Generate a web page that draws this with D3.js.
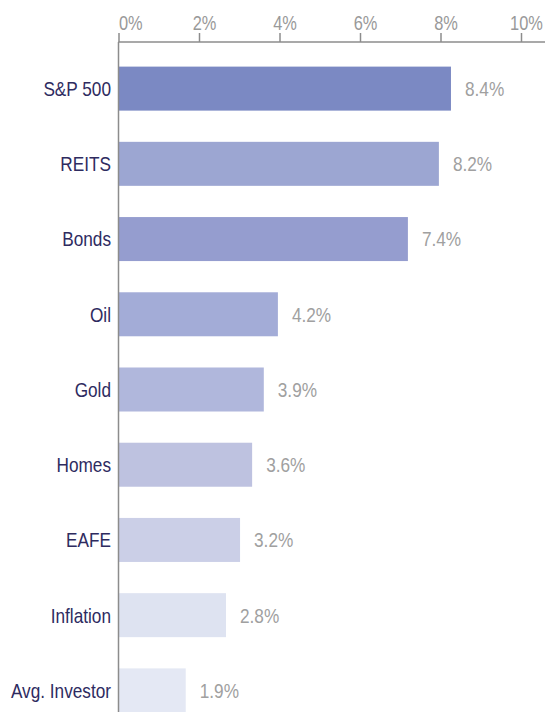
<!DOCTYPE html>
<html>
<head>
<meta charset="utf-8">
<script src="https://cdn.jsdelivr.net/npm/d3@7"></script>
<style>
body { margin:0; background:#fff; }
svg text { font-family: "Liberation Sans", Arial, sans-serif; }
</style>
</head>
<body>
<div id="chart"></div>
<script>
// data
var categories = ['S&P 500', 'REITS', 'Bonds', 'Oil', 'Gold', 'Homes', 'EAFE', 'Inflation', 'Avg. Investor'];
var barValues = [8.26, 7.96, 7.19, 3.96, 3.61, 3.32, 3.02, 2.67, 1.67];
var valueLabels = ['8.4%', '8.2%', '7.4%', '4.2%', '3.9%', '3.6%', '3.2%', '2.8%', '1.9%'];
var barColors = ['#7b89c3', '#9ca6d2', '#959dcf', '#a3acd7', '#b0b7dc', '#bec2e0', '#cbcfe7', '#dee3f1', '#e4e8f4'];
var tickValues = [0, 2, 4, 6, 8, 10];

var svpWidth = 545;
var svpHeight = 712;
var narrow = 0.82; // squeeze text to look like a narrow face

var svg = d3.select('#chart')
	.append('svg')
	.attr('width', svpWidth)
	.attr('height', svpHeight);

// scales
var x = d3.scaleLinear()
	.domain([0, 10])
	.range([118.5, 521]);
var y = d3.scaleBand()
	.domain(categories)
	.range([51, 728])
	.paddingInner(0.415)
	.paddingOuter(0.2075);

// top axis
var axisY = 42;
var xAxis = svg.append('g')
	.attr('transform', 'translate(0,' + axisY + ')')
	.call(d3.axisTop(x).tickValues(tickValues).tickSize(9).tickSizeOuter(0).tickPadding(3).tickFormat(d => d + '%'));
xAxis.select('.domain').remove();
xAxis.selectAll('line').attr('stroke', '#8c8c8c').attr('stroke-width', 1.5);
xAxis.selectAll('text')
	.attr('fill', '#999')
	.attr('text-anchor', d => d === 0 ? 'start' : 'middle')
	.attr('transform', d => 'translate(' + (d === 0 ? 0 : 5) + ',0) scale(' + narrow + ',1)')
	.style('font-size', '20px');
svg.append('line')
	.attr('x1', x(0)).attr('x2', svpWidth)
	.attr('y1', axisY).attr('y2', axisY)
	.attr('stroke', '#8c8c8c')
	.attr('stroke-width', 1.5);

// bars
svg.append('g')
	.selectAll('rect')
	.data(categories)
	.enter()
	.append('rect')
	.attr('x', x(0))
	.attr('y', d => y(d))
	.attr('width', (d, i) => x(barValues[i]) - x(0))
	.attr('height', y.bandwidth())
	.attr('fill', (d, i) => barColors[i]);

// vertical axis line
svg.append('line')
	.attr('x1', x(0)).attr('x2', x(0))
	.attr('y1', axisY).attr('y2', svpHeight)
	.attr('stroke', '#8c8c8c')
	.attr('stroke-width', 1.5);

// category labels
svg.append('g')
	.selectAll('text')
	.data(categories)
	.enter()
	.append('text')
	.attr('transform', d => 'translate(' + (x(0) - 7.5) + ',' + (y(d) + y.bandwidth() / 2) + ') scale(' + narrow + ',1)')
	.attr('dy', '0.35em')
	.attr('text-anchor', 'end')
	.style('font-size', '21px')
	.style('fill', '#2e2b5f')
	.text(d => d);

// value labels
svg.append('g')
	.selectAll('text')
	.data(categories)
	.enter()
	.append('text')
	.attr('transform', (d, i) => 'translate(' + (x(barValues[i]) + 14) + ',' + (y(d) + y.bandwidth() / 2) + ') scale(' + narrow + ',1)')
	.attr('dy', '0.35em')
	.style('font-size', '21px')
	.style('fill', '#a0a0a0')
	.text((d, i) => valueLabels[i]);
</script>
</body>
</html>
